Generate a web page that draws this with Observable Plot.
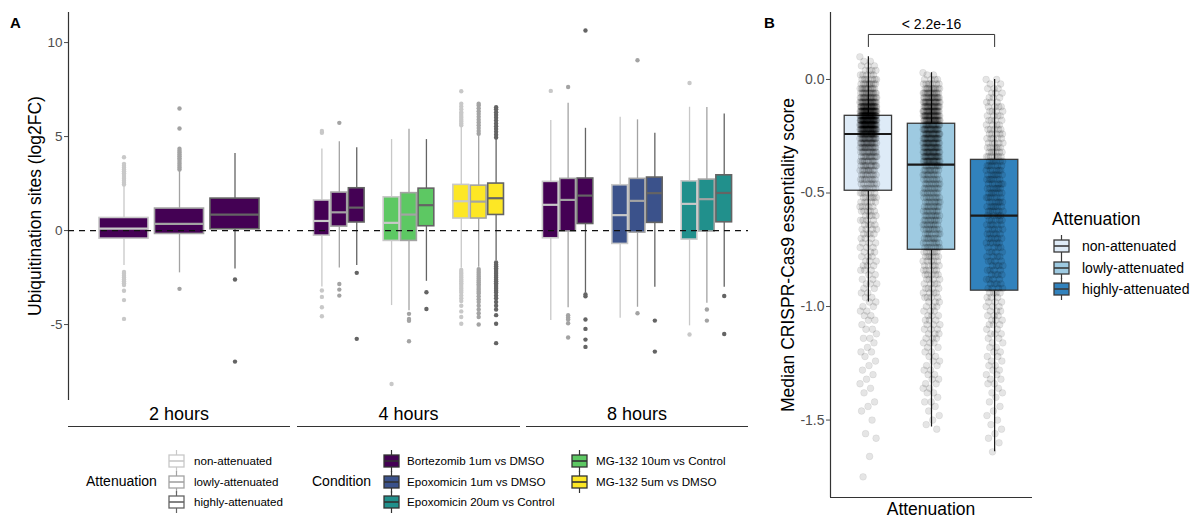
<!DOCTYPE html>
<html><head><meta charset="utf-8">
<script src="https://cdn.jsdelivr.net/npm/d3@7"></script>
<script src="https://cdn.jsdelivr.net/npm/@observablehq/plot@0.6"></script>
<style>
body{margin:0;background:#fff;font-family:"Liberation Sans",Arial,sans-serif;}
#root{position:relative;width:1200px;height:518px;overflow:hidden;background:#fff;}
#root svg{position:absolute;overflow:visible;}
.t{position:absolute;white-space:nowrap;line-height:1;color:#000;}
</style></head><body><div id="root"></div>
<script>
// ---------- DATA ----------
const times = ["2 hours", "4 hours", "8 hours"];
const conditions = ["Bortezomib 1um vs DMSO", "Epoxomicin 1um vs DMSO", "Epoxomicin 20um vs Control", "MG-132 10um vs Control", "MG-132 5um vs DMSO"];
const conditionColors = ["#440154", "#3B528B", "#21908C", "#5DC863", "#FDE725"];
const attenuation = ["non-attenuated", "lowly-attenuated", "highly-attenuated"];
const attenuationGrays = ["#C8C8C8", "#A3A3A3", "#646464"];
const attenuationBlues = ["#DEEBF7", "#9ECAE1", "#3182BD"];

const conds2h = ["Bortezomib 1um vs DMSO"];
const conds4h = ["Bortezomib 1um vs DMSO", "MG-132 10um vs Control", "MG-132 5um vs DMSO"];
const conds8h = ["Bortezomib 1um vs DMSO", "Epoxomicin 1um vs DMSO", "Epoxomicin 20um vs Control"];

// [condition, attenuation, lower whisker, Q1, median, Q3, upper whisker]
const stats2h = [
  ["Bortezomib 1um vs DMSO", "non-attenuated", -1.86, -0.43, 0.10, 0.67, 2.40],
  ["Bortezomib 1um vs DMSO", "lowly-attenuated", -2.25, -0.18, 0.36, 1.17, 3.19],
  ["Bortezomib 1um vs DMSO", "highly-attenuated", -2.04, 0.07, 0.85, 1.70, 4.10]
];
const stats4h = [
  ["Bortezomib 1um vs DMSO", "non-attenuated", -3.00, -0.27, 0.51, 1.60, 4.34],
  ["Bortezomib 1um vs DMSO", "lowly-attenuated", -1.99, 0.21, 0.97, 2.02, 4.73],
  ["Bortezomib 1um vs DMSO", "highly-attenuated", -1.86, 0.43, 1.22, 2.25, 4.40],
  ["MG-132 10um vs Control", "non-attenuated", -3.99, -0.55, 0.41, 1.77, 4.84],
  ["MG-132 10um vs Control", "lowly-attenuated", -4.26, -0.55, 0.85, 1.99, 5.39],
  ["MG-132 10um vs Control", "highly-attenuated", -2.70, 0.23, 1.35, 2.23, 4.84],
  ["MG-132 5um vs DMSO", "non-attenuated", -2.00, 0.64, 1.56, 2.43, 5.55],
  ["MG-132 5um vs DMSO", "lowly-attenuated", -1.95, 0.64, 1.54, 2.39, 5.05],
  ["MG-132 5um vs DMSO", "highly-attenuated", -1.60, 0.83, 1.72, 2.50, 4.88]
];
const stats8h = [
  ["Bortezomib 1um vs DMSO", "non-attenuated", -4.79, -0.41, 1.37, 2.59, 5.85],
  ["Bortezomib 1um vs DMSO", "lowly-attenuated", -4.11, -0.05, 1.63, 2.75, 6.77],
  ["Bortezomib 1um vs DMSO", "highly-attenuated", -3.33, 0.35, 1.86, 2.77, 5.44],
  ["Epoxomicin 1um vs DMSO", "non-attenuated", -4.66, -0.71, 0.82, 2.41, 6.03],
  ["Epoxomicin 1um vs DMSO", "lowly-attenuated", -4.08, -0.11, 1.58, 2.75, 5.89],
  ["Epoxomicin 1um vs DMSO", "highly-attenuated", -3.01, 0.41, 1.99, 2.82, 5.18],
  ["Epoxomicin 20um vs Control", "non-attenuated", -5.07, -0.48, 1.42, 2.62, 6.56],
  ["Epoxomicin 20um vs Control", "lowly-attenuated", -3.87, -0.05, 1.67, 2.71, 6.54],
  ["Epoxomicin 20um vs Control", "highly-attenuated", -3.01, 0.44, 2.00, 2.94, 6.20]
];

// [condition, attenuation, outlier values]
const outliers2h = [
  ["Bortezomib 1um vs DMSO", "non-attenuated", [2.45, 2.55, 2.65, 2.75, 2.85, 2.95, 3.05, 3.15, 3.25, 3.35, 3.45, 3.55, 3.9, -2.2, -2.3, -2.4, -2.5, -2.6, -2.7, -2.8, -2.9, -3.2, -3.7, -4.7]],
  ["Bortezomib 1um vs DMSO", "lowly-attenuated", [3.25, 3.35, 3.45, 3.55, 3.65, 3.75, 3.85, 3.95, 4.05, 4.15, 4.25, 4.35, 5.43, 6.49, -3.1]],
  ["Bortezomib 1um vs DMSO", "highly-attenuated", [-2.6, -6.97]]
];
const outliers4h = [
  ["Bortezomib 1um vs DMSO", "non-attenuated", [5.2, 5.3, -3.19, -3.53, -4.08, -4.56]],
  ["Bortezomib 1um vs DMSO", "lowly-attenuated", [5.73, -2.84, -3.14, -3.46]],
  ["Bortezomib 1um vs DMSO", "highly-attenuated", [-2.25, -5.76]],
  ["MG-132 10um vs Control", "non-attenuated", [-8.16]],
  ["MG-132 10um vs Control", "lowly-attenuated", [-4.43, -4.7, -4.8, -5.89]],
  ["MG-132 10um vs Control", "highly-attenuated", [-3.28, -4.17]],
  ["MG-132 5um vs DMSO", "non-attenuated", [5.6, 5.7, 5.8, 5.9, 6.0, 6.1, 6.2, 6.3, 6.45, 6.6, 6.75, 7.41, -2.1, -2.2, -2.3, -2.4, -2.5, -2.6, -2.7, -2.8, -2.9, -3.0, -3.1, -3.2, -3.3, -3.45, -3.6, -3.75, -4.0, -4.3, -4.6, -4.96]],
  ["MG-132 5um vs DMSO", "lowly-attenuated", [5.15, 5.3, 5.45, 5.6, 5.75, 5.9, 6.05, 6.2, 6.35, 6.5, 6.65, 6.75, -2.05, -2.15, -2.25, -2.35, -2.45, -2.55, -2.65, -2.75, -2.85, -2.95, -3.05, -3.15, -3.25, -3.35, -3.5, -3.65, -3.8, -4.0, -4.2, -4.4, -4.6, -5.0]],
  ["MG-132 5um vs DMSO", "highly-attenuated", [4.95, 5.1, 5.25, 5.4, 5.55, 5.7, 5.85, 6.0, 6.15, 6.3, 6.45, 6.56, -1.7, -1.8, -1.9, -2.0, -2.1, -2.2, -2.3, -2.4, -2.5, -2.6, -2.7, -2.8, -2.9, -3.0, -3.1, -3.2, -3.3, -3.45, -3.6, -3.8, -4.0, -4.2, -4.5, -4.96, -5.99]]
];
const outliers8h = [
  ["Bortezomib 1um vs DMSO", "non-attenuated", [7.43]],
  ["Bortezomib 1um vs DMSO", "lowly-attenuated", [7.64, -4.5, -4.62, -4.73, -4.93, -5.69]],
  ["Bortezomib 1um vs DMSO", "highly-attenuated", [10.64, -3.4, -3.5, -4.73, -5.23, -5.8, -6.19]],
  ["Epoxomicin 1um vs DMSO", "lowly-attenuated", [9.06, -4.4]],
  ["Epoxomicin 1um vs DMSO", "highly-attenuated", [-4.79, -6.44]],
  ["Epoxomicin 20um vs Control", "non-attenuated", [7.85, -5.53]],
  ["Epoxomicin 20um vs Control", "lowly-attenuated", [-4.2, -4.79]],
  ["Epoxomicin 20um vs Control", "highly-attenuated", [-3.48, -5.5]]
];
const ticksA = [-5, 0, 5, 10];

// Panel B: [attenuation, lower whisker, Q1, median, Q3, upper whisker]
const statsB = [
  ["non-attenuated", -0.98, -0.49, -0.24, -0.16, 0.10],
  ["lowly-attenuated", -1.53, -0.75, -0.375, -0.195, 0.03],
  ["highly-attenuated", -1.64, -0.93, -0.60, -0.354, 0.00]
];
// jittered genes, read as [score, number of points near that score]
const pointsNon = [[0.10,1],[0.08,2],[0.06,3],[0.04,4],[0.02,5],[0.00,7],[-0.02,9],[-0.04,11],[-0.06,13],[-0.08,16],[-0.10,20],[-0.12,26],[-0.14,33],
  [-0.16,38],[-0.18,38],[-0.20,36],[-0.22,32],[-0.24,22],[-0.26,18],[-0.28,16],[-0.30,14],[-0.32,12],[-0.34,11],[-0.36,10],[-0.38,10],[-0.40,9],
  [-0.42,8],[-0.44,8],[-0.46,7],[-0.48,6],[-0.50,6],[-0.52,6],[-0.54,5],[-0.56,5],[-0.58,5],[-0.60,4],[-0.62,4],[-0.64,4],[-0.66,4],[-0.68,4],
  [-0.70,3],[-0.72,3],[-0.74,3],[-0.76,3],[-0.78,3],[-0.80,3],[-0.82,3],[-0.84,3],[-0.86,2],[-0.88,2],[-0.90,3],[-0.92,2],[-0.94,2],[-0.96,2],
  [-0.98,2],[-1.00,2],[-1.02,2],[-1.04,2],[-1.06,2],[-1.08,1],[-1.10,2],[-1.12,1],[-1.14,2],[-1.16,1],[-1.18,1],[-1.20,2],[-1.22,1],[-1.24,1],
  [-1.26,1],[-1.28,1],[-1.30,1],[-1.32,1],[-1.34,1],[-1.36,1],[-1.38,1],[-1.42,1],[-1.44,1],[-1.46,1],[-1.50,1],[-1.56,1],[-1.58,1],[-1.66,1],[-1.75,1]];
const pointsLow = [[0.03,1],[0.02,2],[0.00,4],[-0.02,7],[-0.04,10],[-0.06,13],[-0.08,15],[-0.10,17],[-0.12,18],[-0.14,20],[-0.16,22],[-0.18,22],
  [-0.20,17],[-0.22,17],[-0.24,17],[-0.26,17],[-0.28,17],[-0.30,17],[-0.32,17],[-0.34,17],[-0.36,17],
  [-0.38,9],[-0.40,9],[-0.42,8],[-0.44,8],[-0.46,8],[-0.48,8],[-0.50,8],[-0.52,8],[-0.54,8],[-0.56,8],[-0.58,8],[-0.60,8],[-0.62,8],[-0.64,8],
  [-0.66,8],[-0.68,7],[-0.70,7],[-0.72,7],[-0.74,7],
  [-0.76,6],[-0.78,6],[-0.80,5],[-0.82,5],[-0.84,5],[-0.86,5],[-0.88,4],[-0.90,4],[-0.92,4],[-0.94,4],[-0.96,4],[-0.98,3],[-1.00,3],[-1.02,3],
  [-1.04,3],[-1.06,3],[-1.08,3],[-1.10,3],[-1.12,3],[-1.14,3],[-1.16,3],[-1.18,2],[-1.20,2],[-1.22,2],[-1.24,2],[-1.26,2],[-1.28,2],[-1.30,2],
  [-1.32,2],[-1.34,2],[-1.36,2],[-1.38,2],[-1.40,1],[-1.42,2],[-1.44,1],[-1.46,1],[-1.48,1],[-1.50,1],[-1.52,1],[-1.54,1]];
const pointsHigh = [[0.00,2],[-0.02,2],[-0.04,3],[-0.06,3],[-0.08,3],[-0.10,3],[-0.12,4],[-0.14,4],[-0.16,4],[-0.18,4],[-0.20,4],[-0.22,5],
  [-0.24,5],[-0.26,5],[-0.28,5],[-0.30,6],[-0.32,6],[-0.34,7],
  [-0.36,6],[-0.38,6],[-0.40,6],[-0.42,6],[-0.44,6],[-0.46,6],[-0.48,6],[-0.50,6],[-0.52,6],[-0.54,6],[-0.56,6],[-0.58,6],
  [-0.60,4],[-0.62,5],[-0.64,5],[-0.66,5],[-0.68,5],[-0.70,5],[-0.72,5],[-0.74,4],[-0.76,4],[-0.78,4],[-0.80,4],[-0.82,4],[-0.84,4],[-0.86,4],
  [-0.88,4],[-0.90,4],[-0.92,4],
  [-0.94,4],[-0.96,3],[-0.98,3],[-1.00,3],[-1.02,3],[-1.04,3],[-1.06,3],[-1.08,3],[-1.10,2],[-1.12,3],[-1.14,2],[-1.16,2],[-1.18,2],[-1.20,2],
  [-1.22,2],[-1.24,2],[-1.26,2],[-1.28,2],[-1.30,2],[-1.32,2],[-1.34,2],[-1.36,1],[-1.38,2],[-1.40,1],[-1.42,1],[-1.44,1],[-1.46,1],[-1.48,1],
  [-1.50,1],[-1.52,1],[-1.54,1],[-1.56,1],[-1.58,1],[-1.60,1],[-1.64,1]];
const comparisonB = [["non-attenuated", "highly-attenuated", "< 2.2e-16"]];
const ticksB = [0, -0.5, -1, -1.5];

// ---------- HELPERS ----------
const root = document.getElementById("root");
const FONT = "'Liberation Sans', Arial, sans-serif";
function addText(text, left, cy, size, extra = "") {
  const d = document.createElement("div");
  d.className = "t";
  d.textContent = text;
  d.style.cssText += `left:${left}px;top:${cy}px;transform:translateY(-50%);font-size:${size}px;${extra}`;
  root.appendChild(d);
  return d;
}
function addCentered(text, cx, cy, size, rotate = 0) {
  const d = document.createElement("div");
  d.className = "t";
  d.textContent = text;
  d.style.cssText += `left:${cx}px;top:${cy}px;transform:translate(-50%,-50%) rotate(${rotate}deg);font-size:${size}px;`;
  root.appendChild(d);
}
function addLine(x1, x2, y, color = "#333", w = 1.3) {
  const d = document.createElement("div");
  d.style.cssText = `position:absolute;left:${x1}px;top:${y - w / 2}px;width:${x2 - x1}px;height:${w}px;background:${color};`;
  root.appendChild(d);
}
function place(svg, left, top) {
  svg.style.left = left + "px";
  svg.style.top = top + "px";
  root.appendChild(svg);
}
function keyGlyph(fill, stroke, left, cy) {
  const ns = "http://www.w3.org/2000/svg";
  const s = document.createElementNS(ns, "svg");
  s.setAttribute("width", 17); s.setAttribute("height", 22);
  s.style.cssText = `position:absolute;left:${left}px;top:${cy - 11}px;`;
  s.innerHTML = `<line x1="8.5" x2="8.5" y1="0" y2="22" stroke="${stroke}" stroke-width="1.2"/>
    <rect x="1" y="5" width="15" height="12" fill="${fill}" stroke="${stroke}" stroke-width="1.3"/>
    <line x1="1" x2="16" y1="11" y2="11" stroke="${stroke}" stroke-width="1.6"/>`;
  root.appendChild(s);
}

// ---------- PANEL A ----------
const yDomainA = [-9.04, 11.6];
const facetSpecs = [
  {time: times[0], conds: conds2h, stats: stats2h, outs: outliers2h, left: 0, ml: 68, width: 290, domain: [0.4, 1.6], step: 0.3, half: 0.1325, yaxis: true},
  {time: times[1], conds: conds4h, stats: stats4h, outs: outliers4h, left: 297, ml: 0, width: 223, domain: [0.4, 3.6], step: 0.25, half: 0.113, yaxis: false},
  {time: times[2], conds: conds8h, stats: stats8h, outs: outliers8h, left: 526, ml: 0, width: 222, domain: [0.4, 3.6], step: 0.25, half: 0.113, yaxis: false}
];
for (const f of facetSpecs) {
  const xOf = (c, a) => (f.conds.indexOf(c) + 1) + (attenuation.indexOf(a) - 1) * f.step;
  const rows = f.stats.map(([c, a, lo, q1, med, q3, hi]) => {
    const x = xOf(c, a);
    return {c, a, lo, q1, med, q3, hi, x, x1: x - f.half, x2: x + f.half,
      fillC: conditionColors[conditions.indexOf(c)], strokeC: attenuationGrays[attenuation.indexOf(a)]};
  });
  const outs = f.outs.flatMap(([c, a, vals]) => vals.map(v => ({x: xOf(c, a), y: v, strokeC: attenuationGrays[attenuation.indexOf(a)]})));
  const svg = Plot.plot({
    width: f.width, height: 430,
    marginLeft: f.ml, marginRight: 0, marginTop: 12, marginBottom: 30,
    style: {fontSize: "13.5px", fontFamily: FONT, color: "#4D4D4D", background: "transparent"},
    x: {domain: f.domain, axis: null},
    y: f.yaxis ? {domain: yDomainA, ticks: ticksA, tickFormat: d => String(d), tickSize: 4, tickPadding: 2, label: null}
               : {domain: yDomainA, axis: null},
    color: {type: "identity"},
    marks: [
      f.yaxis ? Plot.ruleX([f.domain[0]], {stroke: "#333", strokeWidth: 1.2}) : null,
      Plot.ruleX(rows, {x: "x", y1: "lo", y2: "hi", stroke: "strokeC", strokeWidth: 1.3}),
      Plot.rect(rows, {x1: "x1", x2: "x2", y1: "q1", y2: "q3", fill: "fillC", stroke: "strokeC", strokeWidth: 1.6}),
      Plot.ruleY(rows, {y: "med", x1: "x1", x2: "x2", stroke: "strokeC", strokeWidth: 2.2}),
      Plot.dot(outs, {x: "x", y: "y", r: 2.2, fill: "strokeC", stroke: null}),
      Plot.ruleY([0], {stroke: "#111", strokeWidth: 1.2, strokeDasharray: "6,5"})
    ]
  });
  place(svg, f.left, 0);
  addCentered(f.time, f.left + f.ml + (f.width - f.ml) / 2, 414, 18);
  addLine(f.left + f.ml, f.left + f.width, 426.5, "#333", 1.4);
}
addCentered("Ubiquitination sites (log2FC)", 36, 206, 17.5, -90);
addText("A", 10, 22, 15, "font-weight:bold;");

// bottom legend
addText("Attenuation", 86, 481, 14);
const legRows = [461, 481.5, 502];
attenuation.forEach((a, i) => {
  keyGlyph("#FFFFFF", attenuationGrays[i], 168, legRows[i]);
  addText(a, 194, legRows[i], 11.6);
});
addText("Condition", 312, 481, 14);
conditions.forEach((c, i) => {
  const col = i < 3 ? 0 : 1, row = i < 3 ? i : i - 3;
  keyGlyph(conditionColors[i], "#333", col ? 571 : 383, legRows[row]);
  addText(c, col ? 596 : 407, legRows[row], 11.6);
});

// ---------- PANEL B ----------
const yDomainB = [-1.841, 0.295];
const rowsB = statsB.map(([a, lo, q1, med, q3, hi], i) => ({a, x: i + 1, x1: i + 1 - 0.375, x2: i + 1 + 0.375, lo, q1, med, q3, hi, fillC: attenuationBlues[i]}));
const ptsB = [pointsNon, pointsLow, pointsHigh].flatMap((table, g) => {
  let k = 0;
  return table.flatMap(([v, n]) => d3.range(n).map(() => {
    const jitter = ((k++ * 0.6180339887) % 1) - 0.5;
    return {x: g + 1 + jitter * 0.27, y: v};
  }));
});
const range = yDomainB[1] - yDomainB[0];
const maxHi = d3.max(statsB, d => d[5]);
const brTop = maxHi + 0.046 * range, brTip = brTop - 0.025 * range;
const bracket = comparisonB.flatMap(([a, b]) => {
  const xa = attenuation.indexOf(a) + 1, xb = attenuation.indexOf(b) + 1;
  return [{x: xa, y: brTip}, {x: xa, y: brTop}, {x: xb, y: brTop}, {x: xb, y: brTip}];
});
const bracketLabels = comparisonB.map(([a, b, lab]) => ({x: (attenuation.indexOf(a) + attenuation.indexOf(b)) / 2 + 1, y: brTop, lab}));
const svgB = Plot.plot({
  width: 440, height: 518,
  marginLeft: 70, marginRight: 168, marginTop: 12, marginBottom: 21,
  style: {fontSize: "14px", fontFamily: FONT, color: "#4D4D4D", background: "transparent"},
  x: {domain: [0.4, 3.6], axis: null},
  y: {domain: yDomainB, ticks: ticksB, tickFormat: d => d.toFixed(1), tickSize: 4, tickPadding: 2, label: null},
  color: {type: "identity"},
  marks: [
    Plot.ruleX(rowsB, {x: "x", y1: "lo", y2: "hi", stroke: "#1a1a1a", strokeWidth: 1.2}),
    Plot.rect(rowsB, {x1: "x1", x2: "x2", y1: "q1", y2: "q3", fill: "fillC", stroke: "#3a3a3a", strokeWidth: 1.3}),
    Plot.ruleY(rowsB, {y: "med", x1: "x1", x2: "x2", stroke: "#1a1a1a", strokeWidth: 2.2}),
    Plot.dot(ptsB, {x: "x", y: "y", r: 3.4, fill: "#000", fillOpacity: 0.1, stroke: "#000", strokeOpacity: 0.08, strokeWidth: 0.8}),
    Plot.line(bracket, {x: "x", y: "y", stroke: "#333", strokeWidth: 1}),
    Plot.text(bracketLabels, {x: "x", y: "y", text: "lab", dy: -10, fill: "#000", fontSize: 14}),
    Plot.ruleX([0.4], {stroke: "#333", strokeWidth: 1.2}),
    Plot.ruleY([yDomainB[0]], {stroke: "#333", strokeWidth: 1.2})
  ]
});
place(svgB, 760, 0);
addCentered("Median CRISPR-Cas9 essentiality score", 789, 255, 17.5, -90);
addCentered("Attenuation", 931, 510, 17.5);
addText("B", 764, 22, 15, "font-weight:bold;");
addText("Attenuation", 1052, 220, 17.5);
const legRowsB = [246, 267.5, 288.5];
attenuation.forEach((a, i) => {
  keyGlyph(attenuationBlues[i], "#3a3a3a", 1053, legRowsB[i]);
  addText(a, 1082, legRowsB[i], 14);
});
</script></body></html>
